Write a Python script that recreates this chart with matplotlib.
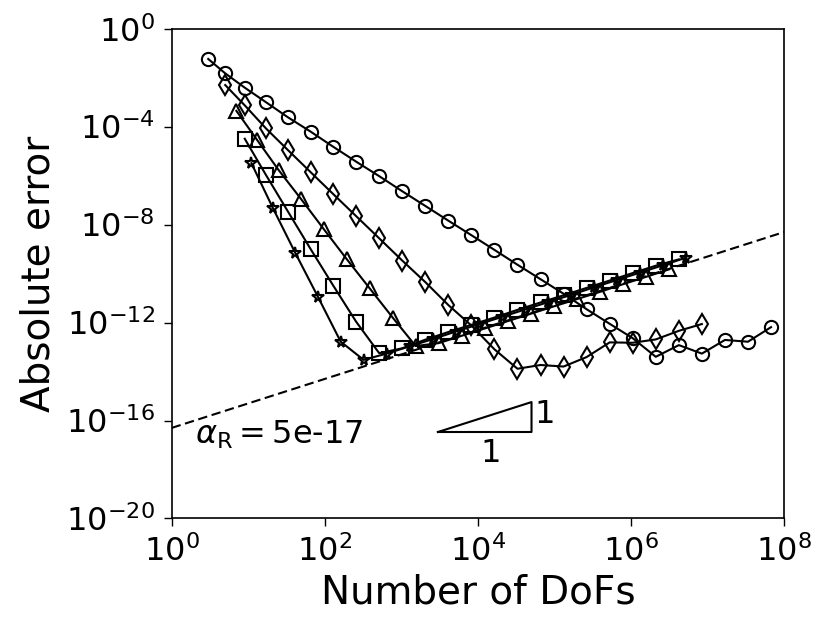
import matplotlib
matplotlib.use("Agg")
import matplotlib.pyplot as plt
import numpy as np

# DoFs for each series
n_circle = [3, 5, 9, 17, 33, 65, 129, 257, 513, 1025, 2049, 4097, 8193, 16385, 32769,
            65537, 131073, 262145, 524289, 1048577, 2097153, 4194305, 8388609,
            16777217, 33554433, 67108865]
e_circle = [5.8e-2, 1.5e-2, 3.9e-3, 1.0e-3, 2.4e-4, 6.3e-5, 1.5e-5, 3.7e-6, 9.5e-7, 2.3e-7,
            5.8e-8, 1.45e-8, 3.7e-9, 9.3e-10, 2.3e-10, 5.9e-11, 1.5e-11, 3.5e-12, 8.9e-13,
            2.3e-13, 4.0e-14, 1.2e-13, 5.4e-14, 1.95e-13, 1.65e-13, 6.5e-13]

n_diamond = [5, 9, 17, 33, 65, 129, 257, 513, 1025, 2049, 4097, 8193, 16385, 32769,
             65537, 131073, 262145, 524289, 1048577, 2097153, 4194305, 8388609]
e_diamond = [5.0e-3, 7.4e-4, 8.5e-5, 1.1e-5, 1.4e-6, 1.75e-7, 2.2e-8, 2.75e-9, 3.4e-10,
             4.5e-11, 5.2e-12, 7.6e-13, 8.1e-14, 1.3e-14, 1.85e-14, 1.6e-14, 3.9e-14,
             1.55e-13, 1.5e-13, 2.05e-13, 4.6e-13, 8.7e-13]

n_triangle = [7, 13, 25, 49, 97, 193, 385, 769, 1537, 3073, 6145, 12289, 24577, 49153,
              98305, 196609, 393217, 786433, 1572865, 3145729]
e_triangle = [4.4e-4, 2.9e-5, 1.66e-6, 1.1e-7, 6.5e-9, 3.9e-10, 2.5e-11, 1.6e-12, 1.1e-13,
              1.45e-13, 2.9e-13, 5.75e-13, 1.15e-12, 2.3e-12, 4.6e-12, 9.1e-12, 1.8e-11,
              3.7e-11, 7.4e-11, 1.5e-10]

n_square = [9, 17, 33, 65, 129, 257, 513, 1025, 2049, 4097, 8193, 16385, 32769, 65537,
            131073, 262145, 524289, 1048577, 2097153, 4194305]
e_square = [3.2e-5, 1.07e-6, 3.4e-8, 1.02e-9, 3.2e-11, 1.07e-12, 5.6e-14, 8.9e-14, 2.0e-13,
            4.1e-13, 8.1e-13, 1.6e-12, 3.3e-12, 6.6e-12, 1.3e-11, 2.6e-11, 5.2e-11,
            1.05e-10, 2.1e-10, 3.8e-10]

n_star = [11, 21, 41, 81, 161, 321, 641, 1281, 2561, 5121, 10241, 20481, 40961, 81921,
          163841, 327681, 655361, 1310721, 2621441, 5242881]
e_star = [3.2e-6, 4.7e-8, 7.1e-10, 1.15e-11, 1.66e-13, 3.0e-14, 5.4e-14, 1.07e-13, 2.1e-13,
          4.3e-13, 8.5e-13, 1.7e-12, 3.4e-12, 6.8e-12, 1.35e-11, 2.75e-11, 5.5e-11,
          1.1e-10, 2.2e-10, 4.5e-10]

alpha_R = 5e-17
ref_x = [1e0, 1e8]

slope_tri_x = [3e3, 5e4, 5e4, 3e3]
slope_tri_y = [3.4e-17, 5.67e-16, 3.4e-17, 3.4e-17]

fig = plt.figure(figsize=(8.31, 6.29), dpi=100)
ax = fig.add_axes([0.2066, 0.1757, 0.7372, 0.7787])

common = dict(color='black', lw=1.5, fillstyle='none', mew=1.5)
ax.plot(n_circle, e_circle, marker='o', ms=9.5, **common)
ax.plot(n_diamond, e_diamond, marker='d', ms=10, **common)
ax.plot(n_triangle, e_triangle, marker='^', ms=9.5, **common)
ax.plot(n_square, e_square, marker='s', ms=9.5, **common)
ax.plot(n_star, e_star, marker='*', ms=8.5, **common)

ax.plot(ref_x, [alpha_R * v for v in ref_x], color='black', ls='--', lw=1.5,
        dashes=(4.5, 2.2))

ax.plot(slope_tri_x, slope_tri_y, 'k-', lw=1.5)
ax.text(7.5e4, 1.7e-16, '1', fontsize=23, ha='center', va='center')
ax.text(1.47e4, 4.4e-18, '1', fontsize=23, ha='center', va='center')
ax.text(2.0, 2.6e-17, r'$\alpha_{\mathrm{R}} = $5e-17', fontsize=23, ha='left', va='center')

ax.set_xscale('log')
ax.set_yscale('log')
ax.set_xlim(1e0, 1e8)
ax.set_ylim(1e-20, 1e0)
ax.set_xticks([1e0, 1e2, 1e4, 1e6, 1e8])
ax.set_yticks([1e-20, 1e-16, 1e-12, 1e-8, 1e-4, 1e0])
ax.minorticks_off()
ax.tick_params(axis='both', which='major', labelsize=23, length=6, width=1, pad=6)
for s in ax.spines.values():
    s.set_linewidth(1.2)

ax.set_xlabel('Number of DoFs', fontsize=28, labelpad=4)
ax.set_ylabel('Absolute error', fontsize=28, labelpad=6)

fig.savefig('out.png', dpi=100)
